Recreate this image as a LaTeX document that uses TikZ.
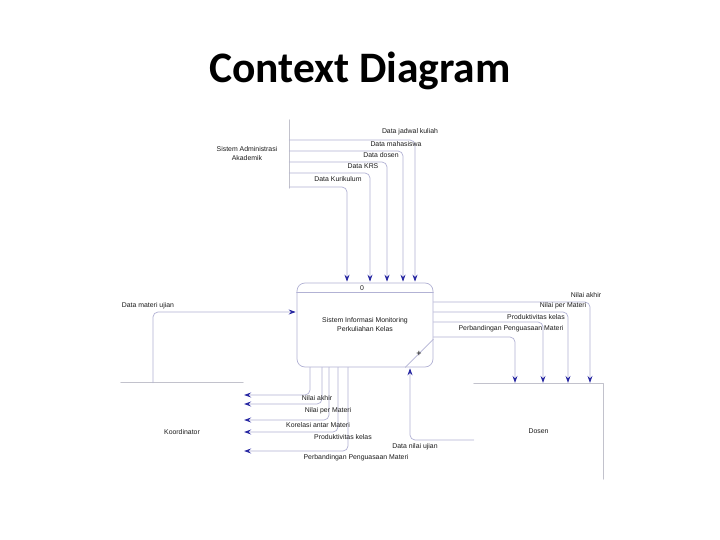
\documentclass[tikz,border=0pt]{standalone}
\usepackage{fontspec}
\setmainfont{Liberation Sans}
\newfontfamily\headfont{Carlito}
\usepackage{tikz}
\usetikzlibrary{arrows.meta,positioning,calc}
\definecolor{flowgray}{HTML}{B2B2D4}
\definecolor{entgray}{HTML}{C2C2CC}
\definecolor{tipblue}{HTML}{2626A2}
\definecolor{ink}{HTML}{1C1C1C}
\tikzset{
    every picture/.style={line cap=round,line join=round},
    procbox/.style={draw=flowgray,rounded corners=8pt,line width=0.7pt,
      minimum width=136pt,minimum height=84pt,inner sep=0pt,
      font=\fontsize{6.9}{9}\selectfont,align=center,text=ink},
    entity/.style={inner sep=0pt,font=\fontsize{6.9}{9}\selectfont,
      align=center,text=ink},
    entline/.style={draw=entgray,line width=0.7pt},
    flow/.style={draw=flowgray,line width=0.7pt,rounded corners=5pt,
      shorten >=1pt,
      -{Stealth[length=7pt,width=5pt,inset=2.5pt,color=tipblue]}},
    flowlabel/.style={inner sep=0pt,font=\fontsize{6.9}{8}\selectfont,text=ink}
}
\begin{document}
\begin{tikzpicture}[x=1pt,y=-1pt]
    \path[fill=white,use as bounding box] (0,0) rectangle (720,540);
    \node[anchor=base,text=black,
      font=\headfont\bfseries\fontsize{43.5}{50}\selectfont] (title) at (360,83) {Context Diagram};
    % process and external entities
    \node[procbox] (proc) at (365,325) {Sistem Informasi Monitoring\\Perkuliahan Kelas};
    \draw[flowgray,line width=0.7pt] ([yshift=-10pt]proc.north west) -- ([yshift=-10pt]proc.north east);
    \draw[flowgray,line width=0.7pt] ([yshift=28pt]proc.south east) -- ([xshift=-28pt]proc.south east);
    \node[flowlabel] (pnum) at (362,288) {0};
    \node[inner sep=0pt,font=\fontsize{9}{9}\selectfont] (pplus) at (419,354) {+};
    \node[entity,minimum width=84pt,minimum height=68pt] (saa) at (247,154) {Sistem Administrasi\\Akademik};
    \node[entity,minimum width=122pt,minimum height=98pt] (koor) at (182,432) {Koordinator};
    \node[entity,minimum width=129pt,minimum height=95pt] (dosen) at (538.5,431.5) {Dosen};
    \draw[entline] (saa.north east) -- (saa.south east);
    \draw[entline] (koor.north west) -- (koor.north east);
    \draw[entline] (dosen.north west) -- (dosen.north east) -- (dosen.south east);
    % flows
    \foreach \yy/\xx in {140/415,151/403,162/387,173/370,187/347}
        \draw[flow] (saa.east |- 0,\yy) -| (\xx,0 |- proc.north);
    \foreach \yy/\xx in {302/590,312/568,322/543,337/515}
        \draw[flow] (proc.east |- 0,\yy) -| (\xx,0 |- dosen.north);
    \foreach \xx/\yy in {310/395,322/404,329/420,338/432,348/451}
        \draw[flow] (\xx,0 |- proc.south) |- (koor.east |- 0,\yy);
    \draw[flow] (153,0 |- koor.north) |- (proc.west |- 0,312);
    \draw[flow] (dosen.west |- 0,440) -| (410,0 |- proc.south);
    % labels
    \node[flowlabel] (ljadwal) at (410,132) {Data jadwal kuliah};
    \node[flowlabel] (lmhs) at (396,144) {Data mahasiswa};
    \node[flowlabel] (ldosen) at (381,155) {Data dosen};
    \node[flowlabel] (lkrs) at (363,166) {Data KRS};
    \node[flowlabel] (lkur) at (338,179) {Data Kurikulum};
    \node[flowlabel] (lmateri) at (148,306) {Data materi ujian};
    \node[flowlabel] (rakhir) at (586,295) {Nilai akhir};
    \node[flowlabel] (rpermat) at (563,306) {Nilai per Materi};
    \node[flowlabel] (rprod) at (536,317) {Produktivitas kelas};
    \node[flowlabel] (rbanding) at (511,329) {Perbandingan Penguasaan Materi};
    \node[flowlabel] (kakhir) at (317,398) {Nilai akhir};
    \node[flowlabel] (kpermat) at (328,411) {Nilai per Materi};
    \node[flowlabel] (kkorel) at (318,425) {Korelasi antar Materi};
    \node[flowlabel] (kprod) at (343,437) {Produktivitas kelas};
    \node[flowlabel] (knilai) at (415,447) {Data nilai ujian};
    \node[flowlabel] (kbanding) at (356,458) {Perbandingan Penguasaan Materi};
\end{tikzpicture}
\end{document}
